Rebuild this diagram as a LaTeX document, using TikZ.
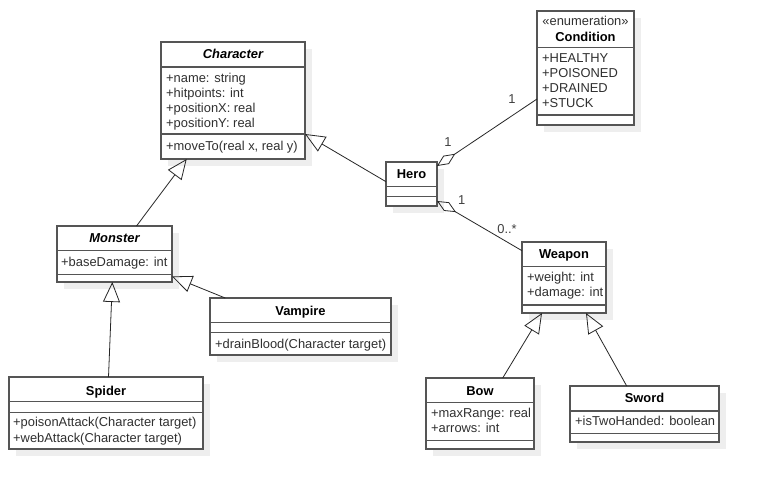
\documentclass[tikz,border=0pt]{standalone}
\usepackage{fontspec}
\setmainfont{Liberation Sans}
\usetikzlibrary{arrows.meta,calc}
\definecolor{boxline}{HTML}{555555}
\definecolor{shadowc}{HTML}{EEEEEE}
\definecolor{txt}{HTML}{303030}
\tikzset{
 umlbox/.style={draw=boxline, line width=1.3pt, fill=white, inner sep=0pt, outer sep=0pt, anchor=north west},
 divider/.style={draw=boxline, line width=1.3pt},
 ttl/.style={font=\fontsize{12.9}{15}\selectfont\bfseries, inner sep=0pt, text height=9pt, text depth=0pt, anchor=center},
 ttli/.style={ttl, font=\fontsize{12.9}{15}\selectfont\bfseries\itshape},
 mem/.style={font=\fontsize{12.9}{15}\selectfont, text=txt, inner sep=0pt, text height=9pt, text depth=0pt, anchor=west},
 lbl/.style={mem, anchor=center, text=black!75},
 conn/.style={draw=black!85, line width=0.8pt},
 gen/.style={conn, -{Triangle[open, length=20pt, width=17pt]}},
 agg/.style={conn, {Diamond[open, length=22pt, width=10pt]}-},
}
\newcommand\classbox[7]{%
  \fill[shadowc] ({#2+7},{#3+7}) rectangle ({#4+7},{#5+7});
  \node[umlbox, minimum width={#4-#2}, minimum height={#5-#3}] (#1) at (#2,#3) {};
  \draw[divider] (#2,#6) -- (#4,#6);
  \draw[divider] (#2,#7) -- (#4,#7);
}
\begin{document}
\begin{tikzpicture}[x=1pt,y=-1pt]
\useasboundingbox[fill=white] (0,0) rectangle (759,490);

% Character
\classbox{char}{161}{42}{305}{159}{67}{134}
\node[ttli] (charT) at (233,54) {Character};
\node[mem] (charA1) at (166,77.5) {+name: string};
\node[mem] (charA2) at (166,92.5) {+hitpoints: int};
\node[mem] (charA3) at (166,107.5) {+positionX: real};
\node[mem] (charA4) at (166,122.5) {+positionY: real};
\node[mem] (charM1) at (166,146) {+moveTo(real x, real y)};

% Condition
\classbox{cond}{537}{11}{634}{125}{47.5}{115}
\node[mem, anchor=center] (condS) at (585.5,20.7) {«enumeration»};
\node[ttl] (condT) at (585.5,36.7) {Condition};
\node[mem] (condA1) at (542,58.3) {+HEALTHY};
\node[mem] (condA2) at (542,73.3) {+POISONED};
\node[mem] (condA3) at (542,88.3) {+DRAINED};
\node[mem] (condA4) at (542,103.3) {+STUCK};

% Hero
\classbox{hero}{386}{162}{437}{206}{186.7}{196.7}
\node[ttl] (heroT) at (411.5,174.3) {Hero};

% Monster
\classbox{monster}{57}{226}{172}{282}{250.7}{274.3}
\node[ttli] (monT) at (114.5,238.3) {Monster};
\node[mem] (monA1) at (61,261.7) {+baseDamage: int};

% Vampire
\classbox{vampire}{210}{298}{391}{355}{322.7}{332.3}
\node[ttl] (vampT) at (300.5,310.7) {Vampire};
\node[mem] (vampM1) at (215,344) {+drainBlood(Character target)};

% Spider
\classbox{spider}{9}{377}{203}{449}{401.7}{412.3}
\node[ttl] (spT) at (106,390.7) {Spider};
\node[mem] (spM1) at (13,422) {+poisonAttack(Character target)};
\node[mem] (spM2) at (13,437.5) {+webAttack(Character target)};

% Weapon
\classbox{weapon}{522}{242}{606}{313}{266.7}{305}
\node[ttl] (wpT) at (564,254.3) {Weapon};
\node[mem] (wpA1) at (527,277.3) {+weight: int};
\node[mem] (wpA2) at (527,292.3) {+damage: int};

% Bow
\classbox{bow}{426}{378}{534}{449}{402.7}{440.7}
\node[ttl] (bowT) at (480,390.7) {Bow};
\node[mem] (bowA1) at (431,413.3) {+maxRange: real};
\node[mem] (bowA2) at (431,428.3) {+arrows: int};

% Sword
\classbox{sword}{570}{386}{719}{442}{411}{433.3}
\node[ttl] (swT) at (644.5,398.3) {Sword};
\node[mem] (swA1) at (575,421) {+isTwoHanded: boolean};

% Generalizations
\draw[gen] ([xshift=22pt]monster.north) -- ([xshift=-46.3pt]char.south);
\draw[gen] ([yshift=2.3pt]hero.west) -- ([yshift=-33.5pt]char.east);
\draw[gen] ([xshift=-75.3pt]vampire.north) -- ([yshift=5.6pt]monster.south east);
\draw[gen] ([xshift=2.5pt]spider.north) -- ([xshift=-2.2pt]monster.south);
\draw[gen] ([xshift=22.7pt]bow.north) -- ([xshift=-22pt]weapon.south);
\draw[gen] ([xshift=-17.8pt]sword.north) -- ([xshift=22pt]weapon.south);

% Aggregations
\draw[agg] ([yshift=-4pt]hero.north east) -- ([yshift=-31pt]cond.west);
\draw[agg] ([yshift=5pt]hero.south east) -- ([yshift=-8.7pt]weapon.north west);

% Multiplicities
\node[lbl] (m1) at (512,99) {1};
\node[lbl] (m2) at (448,141.7) {1};
\node[lbl] (m3) at (461.7,200) {1};
\node[lbl] (m4) at (507,229.3) {0..*};
\end{tikzpicture}
\end{document}
